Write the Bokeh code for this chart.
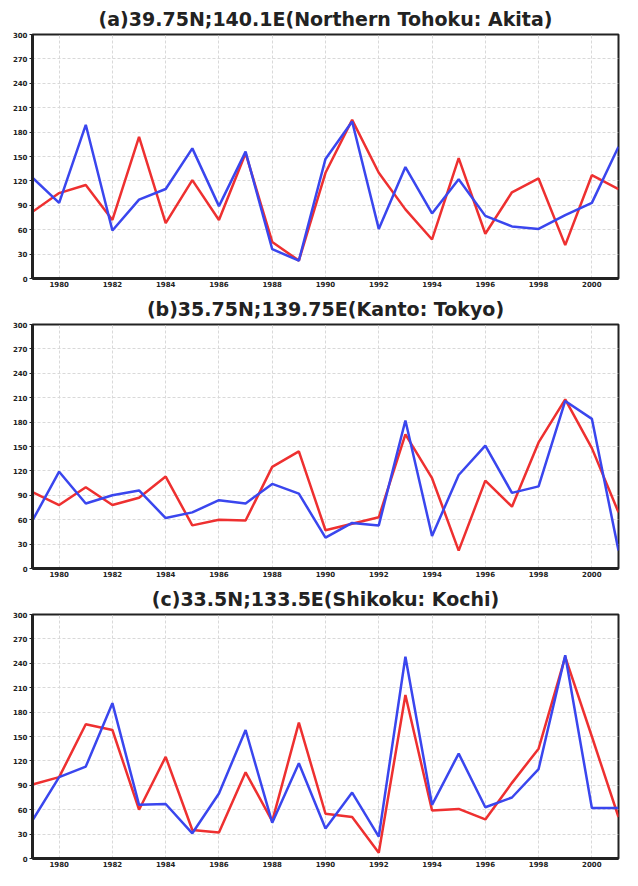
from bokeh.plotting import figure
from bokeh.layouts import column
from bokeh.embed import file_html
from bokeh.resources import INLINE

years = list(range(1979, 2002))

titles = [
    "(a)39.75N;140.1E(Northern Tohoku: Akita)",
    "(b)35.75N;139.75E(Kanto: Tokyo)",
    "(c)33.5N;133.5E(Shikoku: Kochi)",
]

a_red = [82, 105, 115, 72, 174, 68, 121, 72, 154, 45, 22, 130, 195, 130, 85, 48, 148, 55, 106, 123, 41, 127, 110]
a_blue = [124, 93, 189, 59, 97, 110, 160, 89, 156, 36, 22, 147, 193, 61, 137, 80, 122, 77, 64, 61, 78, 93, 162]

b_red = [94, 78, 100, 78, 87, 113, 53, 60, 59, 125, 144, 47, 55, 63, 165, 111, 22, 108, 76, 155, 208, 148, 69]
b_blue = [59, 119, 80, 90, 96, 62, 69, 84, 80, 104, 92, 38, 56, 53, 182, 40, 115, 151, 93, 101, 206, 184, 22]

c_red = [91, 100, 165, 158, 60, 125, 35, 32, 106, 46, 167, 55, 51, 7, 201, 59, 61, 48, 93, 135, 248, 150, 51]
c_blue = [47, 100, 113, 191, 66, 67, 31, 80, 158, 44, 117, 37, 81, 27, 248, 66, 129, 63, 75, 110, 250, 62, 62]

x_ticks = list(range(1980, 2001, 2))
y_ticks = list(range(0, 301, 30))

series = [(a_red, a_blue), (b_red, b_blue), (c_red, c_blue)]

RED = "#ee3030"
BLUE = "#3a46ee"

figs = []
for title, (red, blue) in zip(titles, series):
    p = figure(width=622, height=290, x_range=(1979, 2001), y_range=(0, 300),
               output_backend="svg", toolbar_location=None,
               min_border_left=32, min_border_right=4, min_border_top=6,
               min_border_bottom=12, title=title)
    p.title.align = "center"
    p.title.text_font = "DejaVu Sans"
    p.title.text_font_style = "bold"
    p.title.text_font_size = "19px"
    p.title.text_color = "#222222"

    p.line(years, red, line_color=RED, line_width=2.5)
    p.line(years, blue, line_color=BLUE, line_width=2.5)

    p.xaxis.ticker = x_ticks
    p.yaxis.ticker = y_ticks
    for ax in (p.xaxis[0], p.yaxis[0]):
        ax.major_label_text_font_size = "7px"
        ax.major_label_text_font_style = "bold"
        ax.major_label_text_font = "DejaVu Sans"
        ax.major_label_text_color = "#222222"
        ax.axis_line_width = 3
        ax.axis_line_color = "#222222"
        ax.major_tick_line_color = "#222222"
        ax.minor_tick_line_color = None
        ax.major_label_standoff = 2
    p.yaxis.major_tick_out = 3
    p.yaxis.major_tick_in = 0
    p.xaxis.major_tick_out = 0
    p.xaxis.major_tick_in = 0

    p.outline_line_color = "#222222"
    p.outline_line_width = 2
    p.outline_line_alpha = 1

    for g in (p.xgrid[0], p.ygrid[0]):
        g.grid_line_color = "#d9d9d9"
        g.grid_line_dash = "3 2"
        g.grid_line_width = 1
    figs.append(p)

layout = column(*figs, spacing=0)
open("out.html", "w").write(file_html(layout, INLINE))
